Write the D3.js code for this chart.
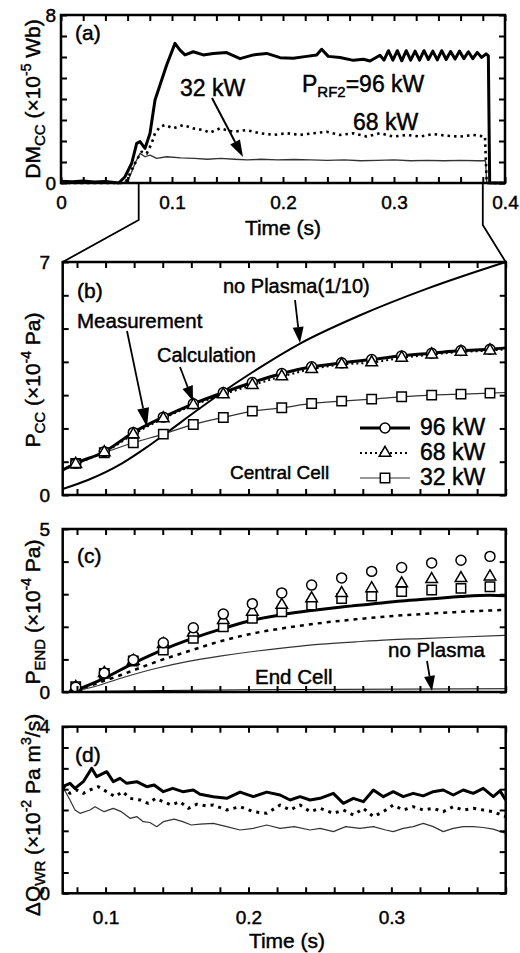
<!DOCTYPE html>
<html><head><meta charset="utf-8">
<script src="https://cdn.jsdelivr.net/npm/d3@7"></script>
<style>
html,body{margin:0;padding:0;background:#fff;}
svg{display:block;}
text{font-family:"Liberation Sans",Arial,Helvetica,sans-serif;fill:#000;stroke:#000;stroke-width:0.45px;}
</style></head><body>
<svg id="chart" width="520" height="953"></svg>
<script>
// ---------- DATA ----------
// (a) DM_CC (x1e-5 Wb) vs time (s)
const dmcc96 = [[0.000,0.08],[0.010,0.06],[0.020,0.09],[0.030,0.05],[0.040,0.07],[0.048,0.03],[0.052,0.0],[0.0577,0.30],[0.0637,0.94],[0.0682,1.89],[0.0712,1.97],[0.0757,1.65],[0.0802,2.37],[0.0847,3.95],[0.0892,4.67],[0.0952,5.62],[0.1027,6.65],[0.1072,6.33],[0.1117,6.10],[0.1192,6.25],[0.1282,6.10],[0.1372,6.17],[0.1492,6.21],[0.1613,5.92],[0.1733,6.10],[0.1853,6.17],[0.1973,5.97],[0.2093,5.94],[0.2213,6.03],[0.2303,6.10],[0.2348,6.37],[0.2408,6.03],[0.2514,5.98],[0.2634,5.84],[0.2724,5.89],[0.2784,5.81],[0.2874,6.08],[0.2910,5.85],[0.2950,6.30],[0.2990,5.85],[0.3030,6.30],[0.3070,5.82],[0.3110,6.30],[0.3150,5.85],[0.3190,6.28],[0.3230,5.85],[0.3270,6.30],[0.3310,5.88],[0.3350,6.28],[0.3390,5.86],[0.3430,6.30],[0.3470,5.88],[0.3510,6.26],[0.3550,5.90],[0.3590,6.28],[0.3630,5.92],[0.3670,6.25],[0.3710,5.92],[0.3750,6.22],[0.3790,5.98],[0.3830,6.15],[0.3850,6.05],[0.3862,0.0],[0.400,0.0]];
const dmcc68 = [[0.000,0.0],[0.055,0.0],[0.0592,0.13],[0.0682,1.10],[0.0727,1.49],[0.0772,1.40],[0.0817,1.89],[0.0847,2.37],[0.0892,2.68],[0.0937,2.76],[0.1012,2.60],[0.1102,2.76],[0.1192,2.60],[0.1282,2.52],[0.1342,2.40],[0.1432,2.60],[0.1553,2.44],[0.1673,2.52],[0.1793,2.37],[0.1913,2.29],[0.2033,2.37],[0.2153,2.29],[0.2273,2.37],[0.2393,2.44],[0.2514,2.29],[0.2634,2.37],[0.2754,2.21],[0.2874,2.37],[0.2994,2.21],[0.3114,2.29],[0.3234,2.21],[0.3354,2.33],[0.3474,2.25],[0.3595,2.21],[0.3715,2.29],[0.3820,2.21],[0.3835,0.0],[0.400,0.0]];
const dmcc32 = [[0.000,0.0],[0.056,0.0],[0.0607,0.13],[0.0667,0.94],[0.0712,1.41],[0.0757,1.25],[0.0802,1.33],[0.0862,1.17],[0.0952,1.25],[0.1080,1.20],[0.1200,1.17],[0.1320,1.13],[0.1440,1.17],[0.1560,1.13],[0.1680,1.10],[0.1800,1.13],[0.1950,1.10],[0.2100,1.12],[0.2250,1.10],[0.2400,1.08],[0.2550,1.10],[0.2700,1.06],[0.2850,1.08],[0.3000,1.10],[0.3150,1.06],[0.3300,1.08],[0.3450,1.06],[0.3600,1.08],[0.3750,1.06],[0.3825,1.06],[0.3835,0.0],[0.400,0.0]];

// (b)/(c) common calculation times
const calcTimes = [0.0791,0.0991,0.1194,0.1404,0.1614,0.1824,0.2027,0.2233,0.2442,0.2652,0.2862,0.3072,0.3282,0.3487,0.3690];
// (b) P_CC (x1e-4 Pa)
const pcc96 = [0.95,1.30,1.88,2.34,2.74,3.08,3.38,3.65,3.85,3.97,4.07,4.18,4.26,4.34,4.38];
const pcc68 = [0.93,1.28,1.82,2.30,2.70,3.02,3.30,3.56,3.78,3.92,3.98,4.12,4.22,4.30,4.34];
const pcc32 = [0.95,1.27,1.57,1.83,2.12,2.33,2.52,2.62,2.75,2.82,2.88,2.95,3.00,3.03,3.06];
const pccStart = [0.75,0.75,0.75];   // values at t = 0.07
const pccEnd = [4.42,4.38,3.08];     // values at t = 0.38
const pccNoPlasma = [[0.070,0.18],[0.0877,0.45],[0.1115,0.95],[0.1276,1.40],[0.1437,1.90],[0.1626,2.50],[0.1815,3.08],[0.2025,3.68],[0.2361,4.55],[0.2781,5.40],[0.3250,6.20],[0.380,7.0]];

// (c) P_END (x1e-4 Pa)
const pend96 = [0.15,0.58,0.99,1.51,1.97,2.39,2.71,3.04,3.28,3.50,3.70,3.82,3.96,4.04,4.16];
const pend68 = [0.15,0.58,0.95,1.47,1.82,2.20,2.46,2.67,2.87,3.03,3.18,3.33,3.46,3.49,3.54];
const pend32 = [0.16,0.57,0.95,1.29,1.65,2.00,2.26,2.46,2.67,2.87,2.94,3.08,3.13,3.18,3.23];
const pend96Meas = [[0.079,0.05],[0.099,0.42],[0.1194,0.88],[0.1404,1.30],[0.1614,1.65],[0.1824,1.95],[0.2027,2.20],[0.2233,2.37],[0.2442,2.50],[0.2652,2.61],[0.2862,2.70],[0.3072,2.79],[0.3282,2.86],[0.3487,2.93],[0.369,2.97],[0.380,2.95]];
const pend68Meas = [[0.079,0.05],[0.095,0.28],[0.1113,0.53],[0.135,0.92],[0.1579,1.25],[0.180,1.55],[0.2046,1.81],[0.228,1.98],[0.2512,2.12],[0.275,2.23],[0.2979,2.32],[0.321,2.39],[0.3445,2.45],[0.380,2.52]];
const pend32Meas = [[0.079,0.03],[0.095,0.20],[0.1113,0.43],[0.135,0.72],[0.1579,0.94],[0.180,1.10],[0.2046,1.25],[0.228,1.37],[0.2512,1.47],[0.275,1.54],[0.2979,1.60],[0.321,1.64],[0.3445,1.68],[0.380,1.74]];
const pendNoPlasma = [[0.090,0.02],[0.150,0.05],[0.250,0.08],[0.380,0.10]];

// (d) dQ_WR (x1e-2 Pa m^3/s)
const dq96 = [[0.0700,2.56],[0.0751,2.64],[0.0786,2.52],[0.0844,2.68],[0.0903,3.00],[0.0938,2.80],[0.1008,2.92],[0.1054,2.68],[0.1101,2.76],[0.1148,2.64],[0.1218,2.68],[0.1288,2.56],[0.1340,2.60],[0.1404,2.44],[0.1470,2.52],[0.1540,2.44],[0.1614,2.48],[0.1661,2.38],[0.1754,2.32],[0.1848,2.28],[0.1941,2.43],[0.2034,2.32],[0.2128,2.43],[0.2221,2.36],[0.2291,2.24],[0.2361,2.32],[0.2431,2.24],[0.2501,2.28],[0.2594,2.40],[0.2664,2.16],[0.2734,2.28],[0.2804,2.20],[0.2874,2.48],[0.2944,2.32],[0.3013,2.44],[0.3083,2.32],[0.3153,2.40],[0.3223,2.34],[0.3293,2.44],[0.3363,2.48],[0.3433,2.36],[0.3503,2.48],[0.3573,2.40],[0.3643,2.52],[0.3713,2.32],[0.3760,2.46],[0.3800,2.24]];
const dq68 = [[0.0700,2.56],[0.0751,2.40],[0.0800,2.48],[0.0844,2.40],[0.0891,2.48],[0.0949,2.56],[0.1008,2.44],[0.1066,2.32],[0.1120,2.44],[0.1171,2.28],[0.1241,2.24],[0.1299,2.16],[0.1350,2.28],[0.1404,2.20],[0.1460,2.12],[0.1520,2.20],[0.1579,2.04],[0.1640,2.14],[0.1700,2.10],[0.1754,2.12],[0.1848,2.00],[0.1941,2.08],[0.2034,1.96],[0.2128,1.92],[0.2221,2.12],[0.2291,2.00],[0.2361,2.12],[0.2431,1.96],[0.2501,2.04],[0.2594,1.92],[0.2664,2.00],[0.2734,1.88],[0.2804,2.04],[0.2874,1.84],[0.2944,1.96],[0.3013,2.12],[0.3083,2.00],[0.3153,2.08],[0.3223,2.00],[0.3293,2.04],[0.3363,1.96],[0.3433,2.08],[0.3503,2.00],[0.3573,2.04],[0.3643,2.00],[0.3713,1.96],[0.3800,1.84]];
const dq32 = [[0.0700,2.56],[0.0751,2.24],[0.0786,2.00],[0.0821,1.92],[0.0891,2.00],[0.0926,2.08],[0.0990,1.96],[0.1054,2.04],[0.1110,1.96],[0.1171,1.80],[0.1220,1.84],[0.1264,1.72],[0.1310,1.70],[0.1358,1.60],[0.1404,1.72],[0.1480,1.78],[0.1540,1.72],[0.1600,1.64],[0.1661,1.66],[0.1754,1.68],[0.1848,1.60],[0.1941,1.52],[0.2034,1.56],[0.2128,1.64],[0.2221,1.56],[0.2321,1.60],[0.2431,1.52],[0.2501,1.56],[0.2594,1.48],[0.2680,1.60],[0.2780,1.56],[0.2874,1.60],[0.2960,1.52],[0.3013,1.48],[0.3083,1.56],[0.3153,1.60],[0.3223,1.68],[0.3293,1.60],[0.3363,1.48],[0.3433,1.56],[0.3503,1.60],[0.3573,1.60],[0.3643,1.58],[0.3713,1.54],[0.3800,1.44]];

// tick labels
const aXTickVals = [0,0.1,0.2,0.3,0.4], aXTickText = ["0","0.1","0.2","0.3","0.4"];
const dXTickVals = [0.1,0.2,0.3], dXTickText = ["0.1","0.2","0.3"];
const aYTickVals = [0,8], bYTickVals = [0,7], cYTickVals = [0,5], dYTickVals = [0,4];
const legendLabels = ["96 kW","68 kW","32 kW"];

// ---------- DRAW ----------
const svg = d3.select('#chart');
const xA = d3.scaleLinear().domain([0,0.4]).range([61,505]);
const yA = d3.scaleLinear().domain([0,8]).range([183,15]);
const xZ = d3.scaleLinear().domain([0.07,0.38]).range([62.7,505.7]);
const yB = d3.scaleLinear().domain([0,7]).range([495,262]);
const yC = d3.scaleLinear().domain([0,5]).range([692,529]);
const yD = d3.scaleLinear().domain([0,4]).range([893.3,726.7]);

function drawLine(x, y, data, w, dash, curve, color) {
  const line = d3.line().x(d=>x(d[0])).y(d=>y(d[1])).curve(curve || d3.curveLinear);
  svg.append('path').datum(data).attr('d', line).attr('fill','none')
    .attr('stroke', color || '#000').attr('stroke-width', w)
    .attr('stroke-dasharray', dash || null).attr('stroke-linejoin','round');
}
const symCircle = d3.symbol().type(d3.symbolCircle).size(78)();
const symTri = d3.symbol().type(d3.symbolTriangle).size(58)();
const symSq = d3.symbol().type(d3.symbolSquare).size(88)();
function drawMarkers(x, y, times, vals, sym) {
  svg.append('g').selectAll('path').data(times.map((t,i)=>[t, vals[i]])).join('path')
    .attr('d', sym).attr('transform', d=>`translate(${x(d[0])},${y(d[1])})`)
    .attr('fill','#fff').attr('stroke','#000').attr('stroke-width',1.5);
}
function frame(x, y, xt, yt) {
  const [x0,x1] = x.range(), [y0,y1] = y.range();
  const g = svg.append('g');
  g.append('g').attr('transform',`translate(0,${y0})`).call(d3.axisBottom(x).tickValues(xt).tickSize(-6).tickFormat(''));
  g.append('g').attr('transform',`translate(0,${y1})`).call(d3.axisTop(x).tickValues(xt).tickSize(-6).tickFormat(''));
  g.append('g').attr('transform',`translate(${x0},0)`).call(d3.axisLeft(y).tickValues(yt).tickSize(-6).tickFormat(''));
  g.append('g').attr('transform',`translate(${x1},0)`).call(d3.axisRight(y).tickValues(yt).tickSize(-6).tickFormat(''));
  g.selectAll('.domain').remove();
  g.selectAll('.tick line').attr('stroke','#000').attr('stroke-width',2);
  g.append('rect').attr('x',x0).attr('y',y1).attr('width',x1-x0).attr('height',y0-y1)
    .attr('fill','none').attr('stroke','#000').attr('stroke-width',2.5);
}
function xLabels(x, yPos, vals, texts, pad) {
  const g = svg.append('g').attr('transform',`translate(0,${yPos})`)
    .call(d3.axisBottom(x).tickValues(vals).tickSize(0).tickPadding(pad).tickFormat((d,i)=>texts[i]));
  g.select('.domain').remove();
  g.attr('font-size',19).attr('font-family','"Liberation Sans",Arial,sans-serif');
}
function yLabels(y, xPos, vals, pad) {
  const g = svg.append('g').attr('transform',`translate(${xPos},0)`)
    .call(d3.axisLeft(y).tickValues(vals).tickSize(0).tickPadding(pad).tickFormat(d3.format('d')));
  g.select('.domain').remove();
  g.attr('font-size',19).attr('font-family','"Liberation Sans",Arial,sans-serif');
}
function yTitle(cx, cy, parts) {
  const t = svg.append('text').attr('transform',`translate(${cx},${cy}) rotate(-90)`)
    .attr('text-anchor','middle').attr('font-size',21);
  parts.forEach(p => {
    const s = t.append('tspan').text(p[0]);
    if (p[1]==='sub') s.attr('font-size',15).attr('dy',5);
    else if (p[1]==='sup') s.attr('font-size',14).attr('dy',-9);
    else if (p[1]==='up') s.attr('dy',-5);
    else if (p[1]==='down') s.attr('dy',9);
  });
}
function label(x, y, txt, size) {
  svg.append('text').attr('x',x).attr('y',y).attr('font-size',size||20).text(txt);
}
function arrow(x1,y1,x2,y2,len,hw,w) {
  const dx=x2-x1, dy=y2-y1, L=Math.hypot(dx,dy), ux=dx/L, uy=dy/L;
  const bx=x2-ux*len, by=y2-uy*len;
  svg.append('line').attr('x1',x1).attr('y1',y1).attr('x2',bx).attr('y2',by).attr('stroke','#000').attr('stroke-width',w||1.8);
  svg.append('path').attr('d',`M${x2},${y2}L${bx-uy*hw},${by+ux*hw}L${bx+uy*hw},${by-ux*hw}Z`).attr('fill','#000');
}

// ----- Panel (a) -----
drawLine(xA, yA, dmcc32, 1.3, null, null, '#333');
drawLine(xA, yA, dmcc68, 2.6, '2.5,4');
drawLine(xA, yA, dmcc96, 3);
frame(xA, yA, d3.range(0,0.4001,0.02), d3.range(0,8.01,1));
xLabels(xA, 183, aXTickVals, aXTickText, 13);
yLabels(yA, 56, aYTickVals, 0);
yTitle(40, 99, [["DM"],["CC","sub"],[" (×10","up"],["-5","sup"],[" Wb)","down"]]);
svg.append('text').attr('x',283).attr('y',235).attr('text-anchor','middle').attr('font-size',21).text('Time (s)');
label(75, 40, '(a)', 21);
label(180, 96, '32 kW', 23);
label(353, 130, '68 kW', 23);
{
  const t = svg.append('text').attr('x',302).attr('y',92).attr('font-size',23);
  t.append('tspan').text('P');
  t.append('tspan').attr('font-size',15).attr('dy',5).text('RF2');
  t.append('tspan').attr('dy',-5).text('=96 kW');
}
arrow(212, 98, 243, 157, 17, 5.5, 2);

// zoom connector lines
svg.append('path').attr('d',`M${xA(0.07)},183V220L${xZ(0.07)},262`).attr('fill','none').attr('stroke','#000').attr('stroke-width',1.8);
svg.append('path').attr('d',`M${xA(0.38)},183V225L${xZ(0.38)},262`).attr('fill','none').attr('stroke','#000').attr('stroke-width',1.8);

// ----- Panel (b) -----
drawLine(xZ, yB, pccNoPlasma, 2, null, d3.curveMonotoneX);
const bLine = (vals, s, e) => [[0.07, s]].concat(calcTimes.map((t,i)=>[t, vals[i]])).concat([[0.38, e]]);
drawLine(xZ, yB, bLine(pcc32, pccStart[2], pccEnd[2]), 1.2, null, d3.curveMonotoneX, '#333');
drawLine(xZ, yB, bLine(pcc68, pccStart[1], pccEnd[1]), 2, '2,3', d3.curveMonotoneX);
drawLine(xZ, yB, bLine(pcc96, pccStart[0], pccEnd[0]), 3, null, d3.curveMonotoneX);
drawMarkers(xZ, yB, calcTimes, pcc32, symSq);
drawMarkers(xZ, yB, calcTimes, pcc96, symCircle);
drawMarkers(xZ, yB, calcTimes, pcc68, symTri);
frame(xZ, yB, d3.range(0.08,0.3801,0.02), d3.range(0,7.01,1));
yLabels(yB, 50, bYTickVals, 0);
yTitle(40, 380, [["P"],["CC","sub"],[" (×10","up"],["-4","sup"],[" Pa)","down"]]);
label(77, 298, '(b)', 21);
label(77, 328, 'Measurement', 20.5);
label(157, 362, 'Calculation', 20);
label(223, 293, 'no Plasma(1/10)', 20);
label(230, 479, 'Central Cell', 19);
arrow(127, 331, 147, 427, 19, 6, 1.8);
arrow(180, 367, 193, 401, 15, 5.5, 1.8);
arrow(295, 300, 300, 343, 16, 5.5, 1.8);
// legend
{
  const rows = [428, 453, 478];
  const styles = [[3,null,symCircle,'#000'],[2,'2,3',symTri,'#000'],[1.2,null,symSq,'#333']];
  legendLabels.forEach((lab,i)=>{
    svg.append('line').attr('x1',360).attr('x2',410).attr('y1',rows[i]).attr('y2',rows[i])
      .attr('stroke',styles[i][3]).attr('stroke-width',styles[i][0]).attr('stroke-dasharray',styles[i][1]);
    svg.append('path').attr('d',styles[i][2]).attr('transform',`translate(385,${rows[i]})`)
      .attr('fill','#fff').attr('stroke','#000').attr('stroke-width',1.5);
    label(420, rows[i]+7, lab, 23);
  });
}

// ----- Panel (c) -----
drawLine(xZ, yC, pendNoPlasma, 1, null, d3.curveMonotoneX);
drawLine(xZ, yC, pend32Meas, 1.2, null, d3.curveMonotoneX, '#333');
drawLine(xZ, yC, pend68Meas, 2.5, '4,5', d3.curveMonotoneX);
drawLine(xZ, yC, pend96Meas, 3, null, d3.curveMonotoneX);
drawMarkers(xZ, yC, calcTimes, pend32, symSq);
drawMarkers(xZ, yC, calcTimes, pend68, symTri);
drawMarkers(xZ, yC, calcTimes, pend96, symCircle);
frame(xZ, yC, d3.range(0.08,0.3801,0.02), d3.range(0,5.01,1));
yLabels(yC, 50, cYTickVals, 0);
yTitle(40, 612, [["P"],["END","sub"],[" (×10","up"],["-4","sup"],[" Pa)","down"]]);
label(77, 563, '(c)', 21);
label(255, 684, 'End Cell', 20.5);
label(388, 657, 'no Plasma', 20.5);
arrow(427, 661, 432, 691, 15, 5.5, 1.8);

// ----- Panel (d) -----
drawLine(xZ, yD, dq32, 1.2, null, null, '#333');
drawLine(xZ, yD, dq68, 3, '3,5');
drawLine(xZ, yD, dq96, 3);
frame(xZ, yD, d3.range(0.08,0.3801,0.02), d3.range(0,4.01,0.5));
xLabels(xZ, 893.3, dXTickVals, dXTickText, 17);
yLabels(yD, 50, dYTickVals, 0);
yTitle(40, 815, [["ΔQ"],["WR","sub"],[" (×10","up"],["-2","sup"],[" Pa m","down"],["3","sup"],["/s)","down"]]);
svg.append('text').attr('x',287).attr('y',948).attr('text-anchor','middle').attr('font-size',21).text('Time (s)');
label(75, 762, '(d)', 21);
</script></body></html>
